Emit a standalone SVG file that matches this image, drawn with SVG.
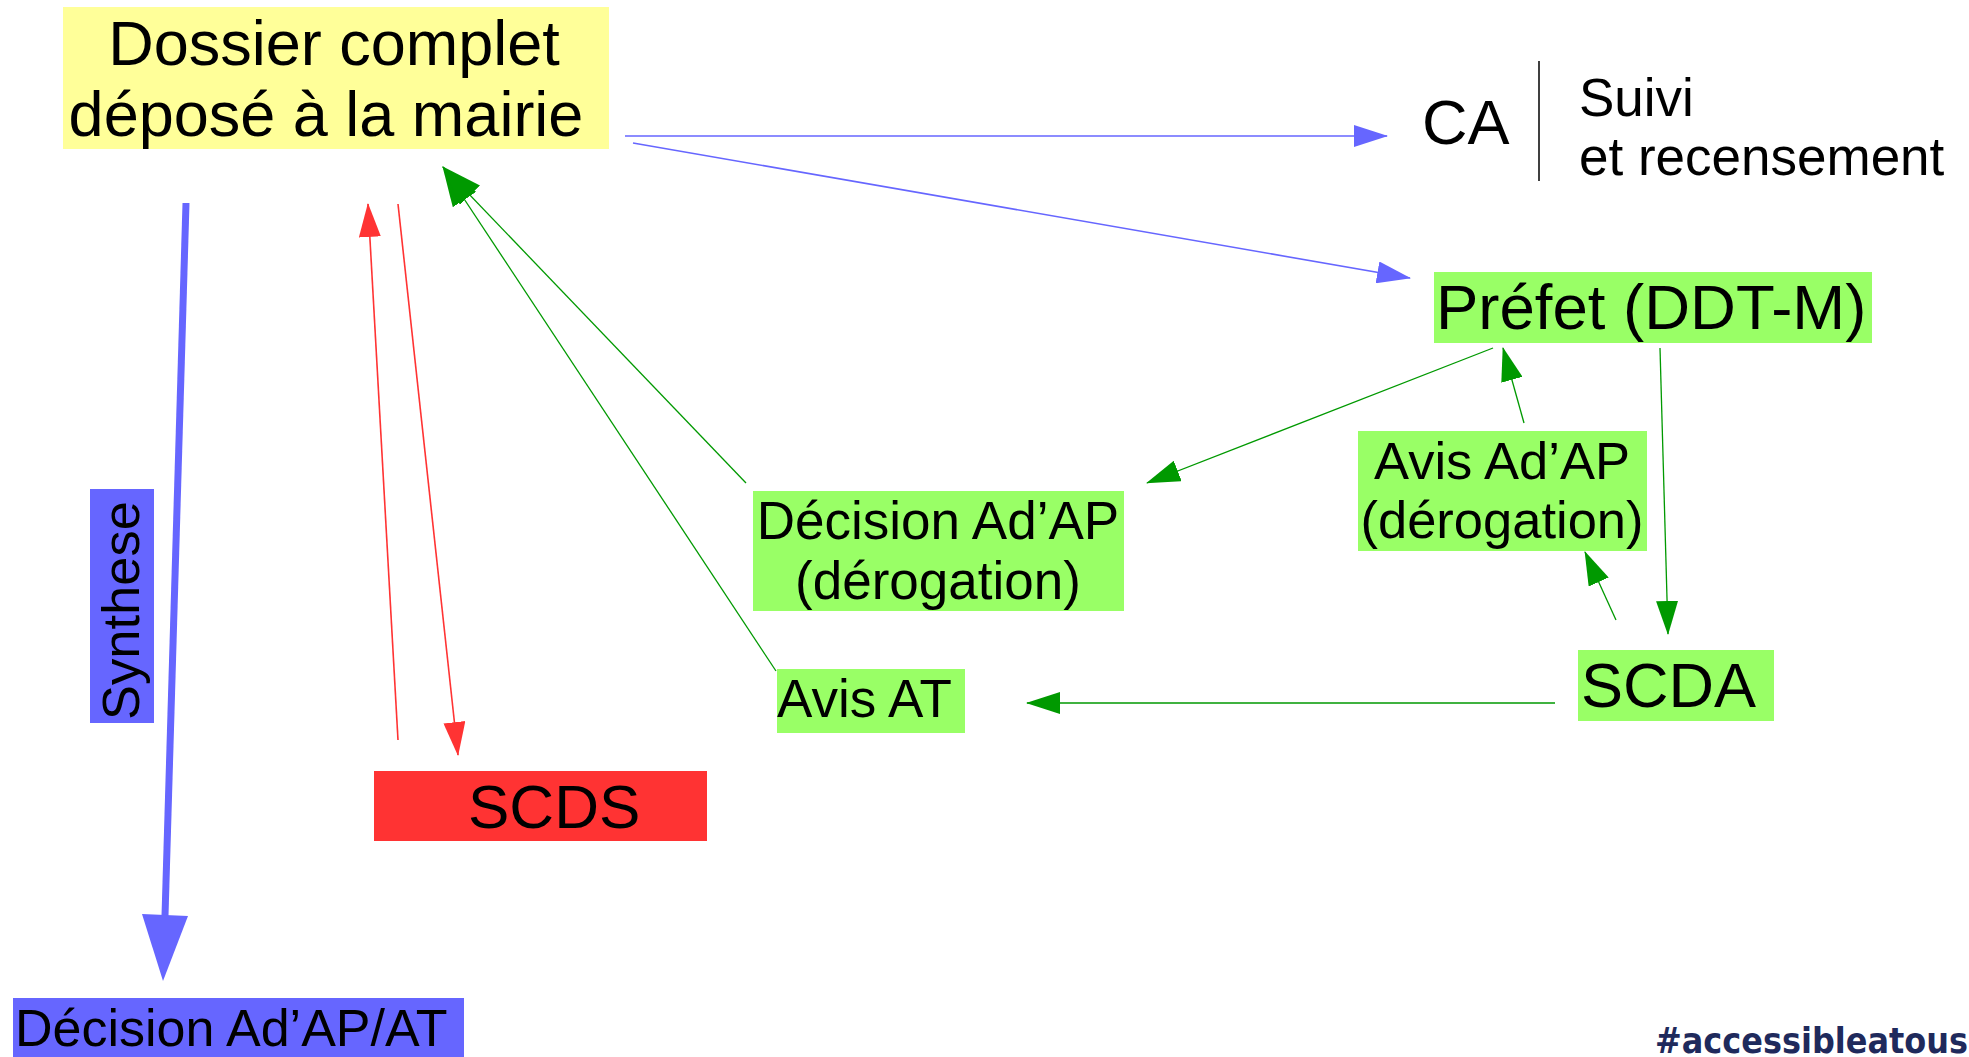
<svg xmlns="http://www.w3.org/2000/svg" width="1969" height="1057" viewBox="0 0 1969 1057">
<style>
text{font-family:"Liberation Sans",Arial,sans-serif;fill:#000}
text.tag{font-family:"DejaVu Sans",sans-serif;font-weight:bold;fill:#1f2a5c}
.blue{stroke:#6666ff;stroke-width:1.6;fill:none}
.green{stroke:#009900;stroke-width:1.3;fill:none}
.red{stroke:#ff3333;stroke-width:1.6;fill:none}
</style>
<defs>
<marker id="ab" markerUnits="userSpaceOnUse" markerWidth="34" markerHeight="22" refX="33" refY="11" orient="auto"><path d="M0,0 L34,11 L0,22 z" fill="#6666ff"/></marker>
<marker id="ag" markerUnits="userSpaceOnUse" markerWidth="34" markerHeight="22" refX="33" refY="11" orient="auto"><path d="M0,0 L34,11 L0,22 z" fill="#009900"/></marker>
<marker id="agl" markerUnits="userSpaceOnUse" markerWidth="40" markerHeight="28" refX="39" refY="14" orient="auto"><path d="M0,0 L40,14 L0,28 z" fill="#009900"/></marker>
<marker id="ar" markerUnits="userSpaceOnUse" markerWidth="34" markerHeight="22" refX="33" refY="11" orient="auto"><path d="M0,0 L34,11 L0,22 z" fill="#ff3333"/></marker>
</defs>
<rect width="1969" height="1057" fill="#fff"/>

<g id="connectors">
<line class="blue" x1="625" y1="136" x2="1387" y2="136" marker-end="url(#ab)"/>
<line class="blue" x1="633" y1="143" x2="1410" y2="278" marker-end="url(#ab)"/>
<line x1="186" y1="203" x2="165" y2="916" stroke="#6666ff" stroke-width="7"/>
<polygon points="142,914 188,916 163,981" fill="#6666ff"/>
<line class="red" x1="398" y1="740" x2="368" y2="204" marker-end="url(#ar)"/>
<line class="red" x1="398" y1="204" x2="458" y2="755" marker-end="url(#ar)"/>
<line class="green" x1="776" y1="671" x2="443" y2="167" marker-end="url(#agl)"/>
<line class="green" x1="746" y1="483" x2="443" y2="167" marker-end="url(#agl)"/>
<line class="green" x1="1493" y1="348" x2="1147" y2="483" marker-end="url(#ag)"/>
<line class="green" x1="1524" y1="423" x2="1503" y2="348" marker-end="url(#ag)"/>
<line class="green" x1="1660" y1="348" x2="1668" y2="634" marker-end="url(#ag)"/>
<line class="green" x1="1616" y1="620" x2="1585" y2="552" marker-end="url(#ag)"/>
<line class="green" x1="1555" y1="703" x2="1027" y2="703" marker-end="url(#ag)"/>
</g>

<g id="dossier">
<rect x="63" y="7" width="546" height="142" fill="#ffff99"/>
<text x="334" y="65" font-size="63" text-anchor="middle">Dossier complet</text>
<text x="326" y="136" font-size="63" text-anchor="middle">déposé à la mairie</text>
</g>

<g id="ca">
<text x="1422" y="144" font-size="63">CA</text>
<line x1="1539" y1="61" x2="1539" y2="181" stroke="#000" stroke-width="1.5"/>
<text x="1579" y="116" font-size="53">Suivi</text>
<text x="1579" y="175" font-size="53">et recensement</text>
</g>

<g id="prefet">
<rect x="1434" y="272" width="438" height="71" fill="#99ff66"/>
<text x="1436" y="329" font-size="63.5">Préfet (DDT-M)</text>
</g>

<g id="avis-adap">
<rect x="1358" y="431" width="289" height="120" fill="#99ff66"/>
<text x="1502" y="479" font-size="52.5" text-anchor="middle">Avis Ad’AP</text>
<text x="1502" y="538" font-size="52.5" text-anchor="middle">(dérogation)</text>
</g>

<g id="decision-adap">
<rect x="753" y="491" width="371" height="120" fill="#99ff66"/>
<text x="938" y="539" font-size="53" text-anchor="middle">Décision Ad’AP</text>
<text x="938" y="599" font-size="53" text-anchor="middle">(dérogation)</text>
</g>

<g id="scda">
<rect x="1578" y="650" width="196" height="71" fill="#99ff66"/>
<text x="1581" y="707" font-size="63">SCDA</text>
</g>

<g id="avis-at">
<rect x="777" y="669" width="188" height="64" fill="#99ff66"/>
<text x="777" y="717" font-size="53">Avis AT</text>
</g>

<g id="scds">
<rect x="374" y="771" width="333" height="70" fill="#ff3333"/>
<text x="468" y="828" font-size="62">SCDS</text>
</g>

<g id="synthese">
<rect x="90" y="489" width="64" height="234" fill="#6666ff"/>
<text transform="translate(139,720) rotate(-90)" font-size="52.5">Synthese</text>
</g>

<g id="decision-final">
<rect x="13" y="998" width="451" height="59" fill="#6666ff"/>
<text x="15" y="1046" font-size="52">Décision Ad’AP/AT</text>
</g>

<text class="tag" x="1655" y="1053" font-size="35" textLength="313" lengthAdjust="spacingAndGlyphs">#accessibleatous</text>
</svg>
